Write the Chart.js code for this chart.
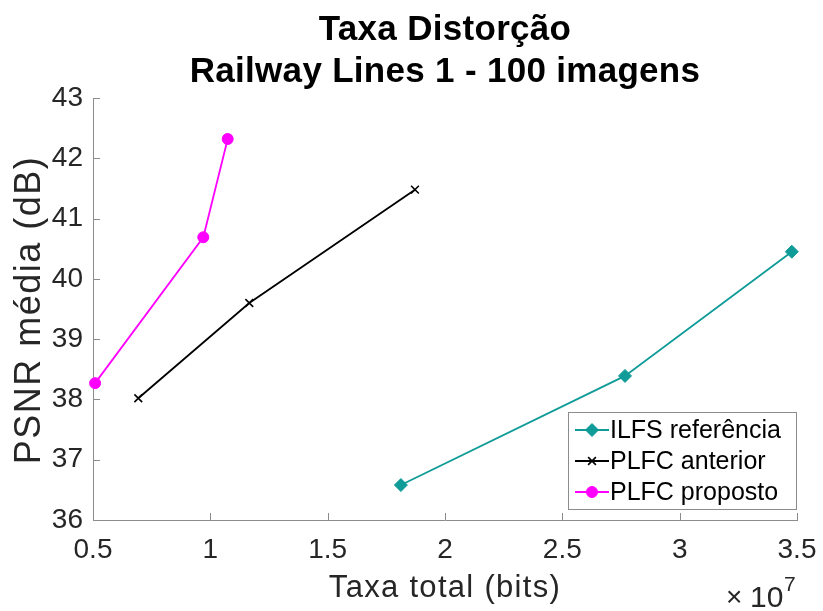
<!DOCTYPE html>
<html>
<head>
<meta charset="utf-8">
<script src="https://cdn.jsdelivr.net/npm/chart.js@4"></script>
<style>
  html, body { margin: 0; padding: 0; background: #ffffff; }
  #wrap { width: 823px; height: 611px; position: relative; }
</style>
</head>
<body>
<div id="wrap"><canvas id="rd"></canvas></div>
<script>
// Rate-distortion curves, rate in units of 1e7 bits
const seriesNames = ['ILFS referência', 'PLFC anterior', 'PLFC proposto'];
const ilfsRate = [1.812, 2.767, 3.478];
const ilfsPsnr = [36.58, 38.39, 40.45];
const prevRate = [0.693, 1.166, 1.872];
const prevPsnr = [38.02, 39.60, 41.48];
const propRate = [0.509, 0.970, 1.074];
const propPsnr = [38.27, 40.69, 42.32];
const xTicks = [0.5, 1, 1.5, 2, 2.5, 3, 3.5];
const yTicks = [36, 37, 38, 39, 40, 41, 42, 43];

const FONT = '"Liberation Sans", Arial, Helvetica, sans-serif';
const AXIS_GREY = '#8c8c8c';
const TEXT_DARK = '#262626';

function toPoints(xs, ys) {
  return xs.map((x, i) => ({ x: x, y: ys[i] }));
}

// Inward tick marks, titles, exponent label and the boxed legend
const decorPlugin = {
  id: 'decor',
  afterDatasetsDraw(chart) {
    const ctx = chart.ctx;
    const area = chart.chartArea;
    const xs = chart.scales.x;
    const ys = chart.scales.y;
    const tl = 7;

    ctx.save();
    ctx.strokeStyle = AXIS_GREY;
    ctx.lineWidth = 1;
    xTicks.forEach(v => {
      const px = Math.round(xs.getPixelForValue(v)) + 0.5;
      ctx.beginPath();
      ctx.moveTo(px, area.bottom);
      ctx.lineTo(px, area.bottom - tl);
      ctx.stroke();
    });
    yTicks.forEach(v => {
      const py = Math.round(ys.getPixelForValue(v)) + 0.5;
      ctx.beginPath();
      ctx.moveTo(area.left, py);
      ctx.lineTo(area.left + tl, py);
      ctx.stroke();
    });

    // Title
    const cx = (area.left + area.right) / 2;
    ctx.fillStyle = '#000000';
    ctx.textAlign = 'center';
    ctx.textBaseline = 'alphabetic';
    ctx.font = 'bold 35px ' + FONT;
    ctx.letterSpacing = '0.3px';
    ctx.fillText('Taxa Distorção', cx, 40);
    ctx.fillText('Railway Lines 1 - 100 imagens', cx, 82);

    // Axis titles
    ctx.fillStyle = TEXT_DARK;
    ctx.font = '31px ' + FONT;
    ctx.letterSpacing = '1.3px';
    ctx.fillText('Taxa total (bits)', cx, 597);
    ctx.save();
    ctx.translate(40, (area.top + area.bottom) / 2 + 1);
    ctx.rotate(-Math.PI / 2);
    ctx.font = '36px ' + FONT;
    ctx.letterSpacing = '1.5px';
    ctx.fillText('PSNR média (dB)', 0, 0);
    ctx.restore();
    ctx.letterSpacing = '0px';

    // x10^7 exponent
    ctx.textAlign = 'left';
    ctx.font = '28px ' + FONT;
    ctx.fillText('×', 726, 606);
    ctx.font = '30px ' + FONT;
    ctx.fillText('10', 750, 607);
    ctx.font = '21px ' + FONT;
    ctx.fillText('7', 784, 591);

    // Legend
    const box = { x: 568.5, y: 412.5, w: 228, h: 97 };
    ctx.fillStyle = '#ffffff';
    ctx.fillRect(box.x, box.y, box.w, box.h);
    ctx.strokeStyle = AXIS_GREY;
    ctx.lineWidth = 1;
    ctx.strokeRect(box.x, box.y, box.w, box.h);
    ctx.font = '25px ' + FONT;
    ctx.textBaseline = 'middle';
    chart.data.datasets.forEach((ds, i) => {
      const ry = 430 + i * 31;
      ctx.strokeStyle = ds.borderColor;
      ctx.lineWidth = ds.borderWidth;
      ctx.beginPath();
      ctx.moveTo(575, ry);
      ctx.lineTo(609, ry);
      ctx.stroke();
      ctx.fillStyle = ds.backgroundColor;
      ctx.lineWidth = ds.pointBorderWidth || 1;
      Chart.helpers.drawPoint(ctx, {
        pointStyle: ds.pointStyle,
        radius: ds.pointRadius,
        borderWidth: ds.pointBorderWidth || 1
      }, 592, ry);
      ctx.fillStyle = '#000000';
      ctx.fillText(ds.label, 610, ry + 1);
    });
    ctx.restore();
  }
};

const canvas = document.getElementById('rd');
const chart = new Chart(canvas, {
  type: 'scatter',
  data: {
    datasets: [
      {
        label: seriesNames[0],
        data: toPoints(ilfsRate, ilfsPsnr),
        showLine: true,
        borderColor: '#0f9b98',
        backgroundColor: '#0f9b98',
        borderWidth: 1.8,
        pointStyle: 'rectRot',
        pointRadius: 6.5,
        pointBorderWidth: 1
      },
      {
        label: seriesNames[1],
        data: toPoints(prevRate, prevPsnr),
        showLine: true,
        borderColor: '#000000',
        backgroundColor: '#000000',
        borderWidth: 1.8,
        pointStyle: 'crossRot',
        pointRadius: 5.5,
        pointBorderWidth: 1.6
      },
      {
        label: seriesNames[2],
        data: toPoints(propRate, propPsnr),
        showLine: true,
        borderColor: '#ff00ff',
        backgroundColor: '#ff00ff',
        borderWidth: 1.8,
        pointStyle: 'circle',
        pointRadius: 5.5,
        pointBorderWidth: 1
      }
    ]
  },
  options: {
    responsive: true,
    maintainAspectRatio: false,
    animation: false,
    clip: false,
    layout: {
      padding: { left: 0, top: 98, right: 26, bottom: 0 }
    },
    plugins: {
      legend: { display: false },
      title: { display: false },
      tooltip: { enabled: false }
    },
    scales: {
      x: {
        type: 'linear',
        min: 0.5,
        max: 3.5,
        afterBuildTicks: scale => { scale.ticks = xTicks.map(v => ({ value: v })); },
        afterFit: scale => {
          scale.height = 91;
          scale.paddingLeft = 0;
          scale.paddingRight = 0;
        },
        grid: { drawOnChartArea: false, drawTicks: false },
        border: { display: true, color: AXIS_GREY, width: 1 },
        ticks: {
          color: TEXT_DARK,
          padding: 13,
          maxRotation: 0,
          autoSkip: false,
          font: { family: FONT, size: 28 },
          callback: v => String(v)
        }
      },
      y: {
        type: 'linear',
        min: 36,
        max: 43,
        afterBuildTicks: scale => { scale.ticks = yTicks.map(v => ({ value: v })); },
        afterFit: scale => {
          scale.width = 93;
          scale.paddingTop = 0;
          scale.paddingBottom = 0;
        },
        grid: { drawOnChartArea: false, drawTicks: false },
        border: { display: true, color: AXIS_GREY, width: 1 },
        ticks: {
          color: TEXT_DARK,
          padding: 10,
          autoSkip: false,
          font: { family: FONT, size: 28 },
          callback: v => String(v)
        }
      }
    }
  },
  plugins: [decorPlugin]
});
</script>
</body>
</html>
